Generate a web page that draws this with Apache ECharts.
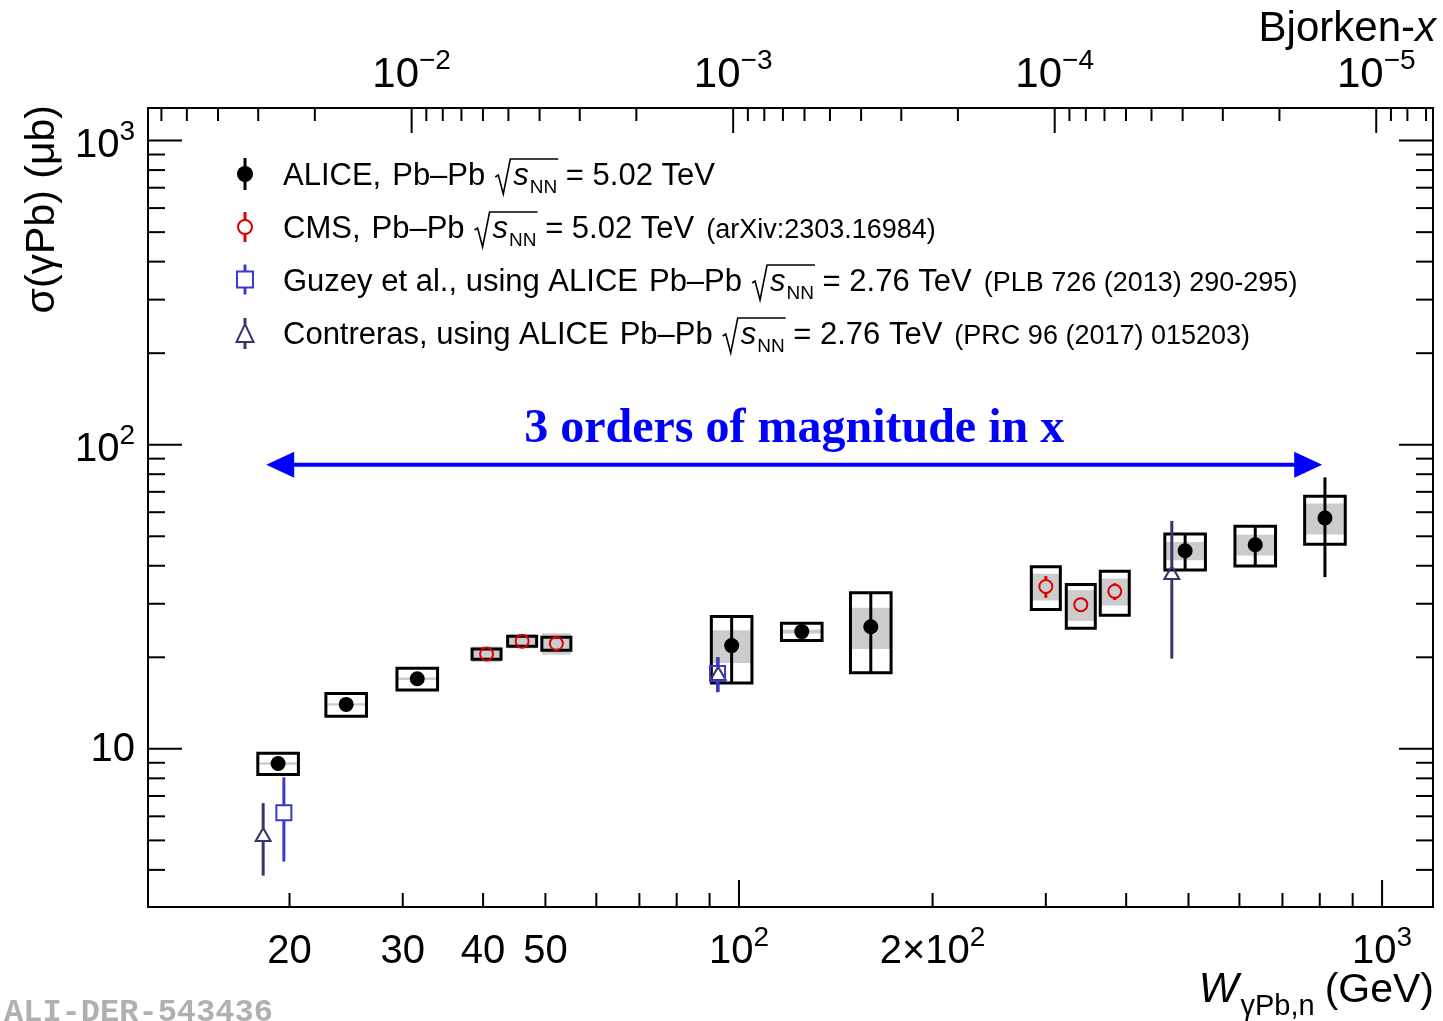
<!DOCTYPE html>
<html>
<head>
<meta charset="utf-8">
<script src="https://cdn.jsdelivr.net/npm/echarts@6/dist/echarts.min.js"></script>
<style>
  html, body { margin: 0; padding: 0; background: #fff; }
  #main { width: 1443px; height: 1021px; }
</style>
</head>
<body>
<div id="main"></div>
<script>
// ---------------- data ----------------
// ALICE Pb-Pb 5.02 TeV: W (GeV), sigma (ub), stat, uncorrelated syst (box), correlated syst (grey)
const aliceW     = [19.2, 24.5, 31.6, 97.4, 125.2, 160.3, 494, 635, 815];
const aliceSigma = [8.95, 14.0, 17.0, 21.85, 24.3, 25.2, 44.8, 46.9, 57.4];
const aliceStat  = [0.3, 0.4, 0.5, 5.4, 0.5, 7.4, 6.1, 7.0, 20.7];
const aliceSyst  = [0.72, 1.2, 1.4, 5.4, 1.6, 7.4, 6.1, 7.0, 10.3];
const aliceCorr  = [0.08, 0.12, 0.15, 2.7, 0.35, 3.9, 3.1, 3.7, 6.7];

// CMS Pb-Pb 5.02 TeV
const cmsW     = [40.5, 46.0, 52.0, 300, 340, 384];
const cmsSigma = [20.5, 22.6, 22.2, 34.2, 29.8, 32.95];
const cmsStat  = [0.3, 0.3, 0.3, 2.8, 1.6, 2.1];
const cmsSyst  = [0.8, 0.85, 1.1, 5.5, 4.9, 5.45];
const cmsCorr  = [1.2, 1.2, 1.8, 3.45, 3.45, 3.35];

// Guzey et al. (from ALICE Pb-Pb 2.76 TeV)
const guzeyW     = [19.6, 92.6];
const guzeySigma = [6.16, 17.7];
const guzeyErr   = [1.9, 2.35];

// Contreras (from ALICE Pb-Pb 2.76 TeV)
const contrerasW     = [18.2, 92.8, 471];
const contrerasSigma = [5.23, 17.7, 38.0];
const contrerasErr   = [1.4, 2.3, 18.2];

// axis ranges
const wMin = 12.05, wMax = 1200;
const sigmaMin = 3.02, sigmaMax = 1280;
const jpsiMassSq = 9.59;                 // M(J/psi)^2 in GeV^2, Bjorken x = M^2 / W^2
const bjxMin = jpsiMassSq / (wMax * wMax);
const bjxMax = jpsiMassSq / (wMin * wMin);

// ticks
const wMajorTicks = [100, 1000];
const wMinorTicks = [20, 30, 40, 50, 60, 70, 80, 90, 200, 300, 400, 500, 600, 700, 800, 900];
const wTickLabels = [[20, '20'], [30, '30'], [40, '40'], [50, '50'], [100, '10', '2'], [200, '2×10', '2'], [1000, '10', '3']];

const bjxMajorTicks = [1e-2, 1e-3, 1e-4, 1e-5];
const bjxMinorTicks = [0.02, 0.03, 0.04, 0.05, 0.06,
  0.002, 0.003, 0.004, 0.005, 0.006, 0.007, 0.008, 0.009,
  0.0002, 0.0003, 0.0004, 0.0005, 0.0006, 0.0007, 0.0008, 0.0009,
  0.00002, 0.00003, 0.00004, 0.00005, 0.00006, 0.00007, 0.00008, 0.00009,
  0.000007, 0.000008, 0.000009];
const bjxTickLabels = [[1e-2, '10', '−2'], [1e-3, '10', '−3'], [1e-4, '10', '−4'], [1e-5, '10', '−5']];

const sigmaMajorTicks = [10, 100, 1000];
const sigmaMinorTicks = [4, 5, 6, 7, 8, 9, 20, 30, 40, 50, 60, 70, 80, 90, 200, 300, 400, 500, 600, 700, 800, 900];
const sigmaTickLabels = [[10, '10'], [100, '10', '2'], [1000, '10', '3']];

// legend entries
const legendNames    = ['ALICE,', 'CMS,', 'Guzey et al., using ALICE', 'Contreras, using ALICE'];
const legendEnergies = ['5.02 TeV', '5.02 TeV', '2.76 TeV', '2.76 TeV'];
const legendRefs     = ['', '(arXiv:2303.16984)', '(PLB 726 (2013) 290-295)', '(PRC 96 (2017) 015203)'];

// annotation arrow spanning the covered range in x
const arrowW = [18.4, 807];
const arrowSigma = 86;
const arrowText = '3 orders of magnitude in x';

// ---------------- styling ----------------
const SANS = '"Liberation Sans", Arial, Helvetica, sans-serif';
const SERIF = '"Liberation Serif", "Times New Roman", serif';
const MONO = '"Liberation Mono", "DejaVu Sans Mono", monospace';
const RED = '#dd0000', BLUE = '#3a3ad0', NAVY = '#36366f', ARROW = '#0000ff', GREY = '#cccccc';
const ALICE_HALF = 20.3, CMS_HALF = 14.5;
const MID = 0.3465;  // canvas 'middle' baseline sits this many em above the alphabetic one

// ---------------- text layout helpers ----------------
const mctx = document.createElement('canvas').getContext('2d');
function fontOf(p) {
  return (p.italic ? 'italic ' : '') + (p.bold ? 'bold ' : '') + p.size + 'px ' + (p.family || SANS);
}
function widthOf(p) { mctx.font = fontOf(p); return mctx.measureText(p.t).width; }

// lays out text pieces on a common baseline; pieces may be {space, key} gaps
function textRun(pieces, x, baseline, align, fill) {
  let total = 0;
  const ws = pieces.map(p => { const w = p.space !== undefined ? p.space : widthOf(p); total += w; return w; });
  let cx = align === 'right' ? x - total : align === 'center' ? x - total / 2 : x;
  const els = [], marks = {};
  pieces.forEach((p, i) => {
    if (p.key) marks[p.key] = cx;
    if (p.space === undefined) {
      els.push({
        type: 'text', x: cx, y: baseline + (p.dy || 0) - MID * p.size, silent: true,
        style: {
          text: p.t, fontSize: p.size, fontFamily: p.family || SANS,
          fontStyle: p.italic ? 'italic' : 'normal', fontWeight: p.bold ? 'bold' : 'normal',
          fill: p.fill || fill || '#000',
          align: 'left', textAlign: 'left', verticalAlign: 'middle', textVerticalAlign: 'middle'
        }
      });
    }
    cx += ws[i];
    if (p.keyEnd) marks[p.keyEnd] = cx;
  });
  return { els, total, marks };
}

function powerLabel(base, exp, size, expSize, expRise) {
  const parts = [{ t: base, size: size }];
  if (exp) parts.push({ t: exp, size: expSize, dy: -expRise });
  return parts;
}

// ---------------- render functions ----------------
function boxRenderer(half, color) {
  return function (params, api) {
    const w = api.value(0), s = api.value(1), stat = api.value(2), syst = api.value(3), corr = api.value(4);
    const c = api.coord([w, s]);
    const ys1 = api.coord([w, s + syst])[1], ys2 = api.coord([w, s - syst])[1];
    const yc1 = api.coord([w, s + corr])[1], yc2 = api.coord([w, s - corr])[1];
    const yt1 = api.coord([w, s + stat])[1], yt2 = api.coord([w, s - stat])[1];
    const kids = [
      { type: 'rect', shape: { x: c[0] - half, y: yc1, width: 2 * half, height: yc2 - yc1 }, style: { fill: GREY } },
      { type: 'rect', shape: { x: c[0] - half, y: ys1, width: 2 * half, height: ys2 - ys1 }, style: { fill: 'none', stroke: '#000', lineWidth: 3 } }
    ];
    if (color) kids.push({ type: 'line', shape: { x1: c[0], y1: yt1, x2: c[0], y2: yt2 }, style: { stroke: color, lineWidth: 3 } });
    return { type: 'group', children: kids };
  };
}

// vertical error bar that leaves a gap for an open marker
function openErrRenderer(color, gapUp, gapDown) {
  return function (params, api) {
    const w = api.value(0), s = api.value(1), e = api.value(2);
    const c = api.coord([w, s]);
    const y1 = api.coord([w, s + e])[1], y2 = api.coord([w, s - e])[1];
    const kids = [];
    if (y1 < c[1] - gapUp) kids.push({ type: 'line', shape: { x1: c[0], y1: y1, x2: c[0], y2: c[1] - gapUp }, style: { stroke: color, lineWidth: 3 } });
    if (y2 > c[1] + gapDown) kids.push({ type: 'line', shape: { x1: c[0], y1: c[1] + gapDown, x2: c[0], y2: y2 }, style: { stroke: color, lineWidth: 3 } });
    return { type: 'group', children: kids };
  };
}

function zip(...arrs) { return arrs[0].map((_, i) => arrs.map(a => a[i])); }

const wTickData = wMajorTicks.map(v => [v, sigmaMin, 1]).concat(wMinorTicks.map(v => [v, sigmaMin, 0]));
const bjxTickData = bjxMajorTicks.map(v => [v, sigmaMax, 1]).concat(bjxMinorTicks.map(v => [v, sigmaMax, 0]));
const sigmaTickData = sigmaMajorTicks.map(v => [wMin, v, 1]).concat(sigmaMinorTicks.map(v => [wMin, v, 0]));

const tickStyle = { stroke: '#000', lineWidth: 2 };

const series = [
  // bottom axis ticks (W)
  {
    type: 'custom', name: 'W ticks', xAxisIndex: 0, yAxisIndex: 0, silent: true, clip: false, z: 6,
    data: wTickData,
    renderItem: (params, api) => {
      const c = api.coord([api.value(0), sigmaMin]);
      const len = api.value(2) ? 27 : 14;
      return { type: 'line', shape: { x1: c[0], y1: c[1], x2: c[0], y2: c[1] - len }, style: tickStyle };
    }
  },
  // bottom axis labels
  {
    type: 'custom', name: 'W labels', xAxisIndex: 0, yAxisIndex: 0, silent: true, clip: false, z: 6,
    data: wTickLabels.map(l => [l[0], sigmaMin]),
    renderItem: (params, api) => {
      const l = wTickLabels[params.dataIndex];
      const c = api.coord([l[0], sigmaMin]);
      return { type: 'group', children: textRun(powerLabel(l[1], l[2], 40, 28, 18), c[0], c[1] + 59, 'center').els };
    }
  },
  // top axis ticks (Bjorken x)
  {
    type: 'custom', name: 'x ticks', xAxisIndex: 1, yAxisIndex: 0, silent: true, clip: false, z: 6,
    data: bjxTickData,
    renderItem: (params, api) => {
      const c = api.coord([api.value(0), sigmaMax]);
      const len = api.value(2) ? 25 : 13;
      return { type: 'line', shape: { x1: c[0], y1: c[1], x2: c[0], y2: c[1] + len }, style: tickStyle };
    }
  },
  {
    type: 'custom', name: 'x labels', xAxisIndex: 1, yAxisIndex: 0, silent: true, clip: false, z: 6,
    data: bjxTickLabels.map(l => [l[0], sigmaMax]),
    renderItem: (params, api) => {
      const l = bjxTickLabels[params.dataIndex];
      const c = api.coord([l[0], sigmaMax]);
      return { type: 'group', children: textRun(powerLabel(l[1], l[2], 42, 28, 19), c[0], c[1] - 18, 'center').els };
    }
  },
  // left and right axis ticks (sigma)
  {
    type: 'custom', name: 'sigma ticks', xAxisIndex: 0, yAxisIndex: 0, silent: true, clip: false, z: 6,
    data: sigmaTickData,
    renderItem: (params, api) => {
      const v = api.value(1);
      const a = api.coord([wMin, v]), b = api.coord([wMax, v]);
      const len = api.value(2) ? 34 : 17;
      return {
        type: 'group', children: [
          { type: 'line', shape: { x1: a[0], y1: a[1], x2: a[0] + len, y2: a[1] }, style: tickStyle },
          { type: 'line', shape: { x1: b[0], y1: b[1], x2: b[0] - len, y2: b[1] }, style: tickStyle }
        ]
      };
    }
  },
  {
    type: 'custom', name: 'sigma labels', xAxisIndex: 0, yAxisIndex: 0, silent: true, clip: false, z: 6,
    data: sigmaTickLabels.map(l => [wMin, l[0]]),
    renderItem: (params, api) => {
      const l = sigmaTickLabels[params.dataIndex];
      const c = api.coord([wMin, l[0]]);
      const base = l[2] ? c[1] + 19 : c[1] + 14.5;
      return { type: 'group', children: textRun(powerLabel(l[1], l[2], 40, 28, 18), c[0] - 13, base, 'right').els };
    }
  },
  // systematic boxes
  {
    type: 'custom', name: 'ALICE syst', xAxisIndex: 0, yAxisIndex: 0, silent: true, z: 2,
    data: zip(aliceW, aliceSigma, aliceStat, aliceSyst, aliceCorr),
    renderItem: boxRenderer(ALICE_HALF, '#000')
  },
  {
    type: 'custom', name: 'CMS syst', xAxisIndex: 0, yAxisIndex: 0, silent: true, z: 2,
    data: zip(cmsW, cmsSigma, cmsStat, cmsSyst, cmsCorr),
    renderItem: boxRenderer(CMS_HALF, null)
  },
  // error bars of open markers
  {
    type: 'custom', name: 'Contreras err', xAxisIndex: 0, yAxisIndex: 0, silent: true, z: 3,
    data: zip(contrerasW, contrerasSigma, contrerasErr),
    renderItem: openErrRenderer(NAVY, 6.5, 6.5)
  },
  {
    type: 'custom', name: 'Guzey err', xAxisIndex: 0, yAxisIndex: 0, silent: true, z: 3,
    data: zip(guzeyW, guzeySigma, guzeyErr),
    renderItem: openErrRenderer(BLUE, 7.5, 7.5)
  },
  {
    type: 'custom', name: 'CMS stat', xAxisIndex: 0, yAxisIndex: 0, silent: true, z: 3,
    data: zip(cmsW, cmsSigma, cmsStat),
    renderItem: openErrRenderer(RED, 6.5, 6.5)
  },
  // markers
  {
    type: 'scatter', name: 'ALICE', xAxisIndex: 0, yAxisIndex: 0, silent: true, z: 4,
    data: zip(aliceW, aliceSigma), symbol: 'circle', symbolSize: 15,
    itemStyle: { color: '#000', opacity: 1 }
  },
  {
    type: 'scatter', name: 'CMS', xAxisIndex: 0, yAxisIndex: 0, silent: true, z: 4,
    data: zip(cmsW, cmsSigma), symbol: 'circle', symbolSize: 13,
    itemStyle: { color: 'rgba(0,0,0,0)', borderColor: RED, borderWidth: 2, opacity: 1 }
  },
  {
    type: 'scatter', name: 'Contreras', xAxisIndex: 0, yAxisIndex: 0, silent: true, z: 4,
    data: zip(contrerasW, contrerasSigma), symbol: 'triangle', symbolSize: [15, 13],
    itemStyle: { color: 'rgba(0,0,0,0)', borderColor: NAVY, borderWidth: 2, opacity: 1 }
  },
  {
    type: 'scatter', name: 'Guzey', xAxisIndex: 0, yAxisIndex: 0, silent: true, z: 4,
    data: zip(guzeyW, guzeySigma), symbol: 'rect', symbolSize: 15,
    itemStyle: { color: 'rgba(0,0,0,0)', borderColor: BLUE, borderWidth: 2, opacity: 1 }
  },
  // double-headed arrow with its caption
  {
    type: 'custom', name: 'x range', xAxisIndex: 0, yAxisIndex: 0, silent: true, clip: false, z: 5,
    data: [[arrowW[0], arrowW[1], arrowSigma]],
    encode: { x: [0, 1], y: 2 },
    renderItem: (params, api) => {
      const a = api.coord([api.value(0), api.value(2)]);
      const b = api.coord([api.value(1), api.value(2)]);
      const y = a[1], head = 28, hh = 13;
      const cap = textRun([{ t: arrowText, size: 48, bold: true, family: SERIF }], (a[0] + b[0]) / 2, y - 18, 'center', ARROW);
      return {
        type: 'group', children: [
          { type: 'line', shape: { x1: a[0] + head - 2, y1: y, x2: b[0] - head + 2, y2: y }, style: { stroke: ARROW, lineWidth: 4 } },
          { type: 'polygon', shape: { points: [[a[0], y], [a[0] + head, y - hh], [a[0] + head, y + hh]] }, style: { fill: ARROW } },
          { type: 'polygon', shape: { points: [[b[0], y], [b[0] - head, y - hh], [b[0] - head, y + hh]] }, style: { fill: ARROW } }
        ].concat(cap.els)
      };
    }
  }
];

// ---------------- legend, titles ----------------
const graphics = [];
const legendX = 245, legendTextX = 283;
const legendBase = [187, 240, 293, 346];
const legendMarkY = [174, 227, 279.5, 333];

legendNames.forEach((name, i) => {
  const b = legendBase[i];
  const pieces = [
    { t: name, size: 31 },
    { space: 11 },
    { t: 'Pb–Pb', size: 31 },
    { space: 10 },
    { space: 18, key: 'r0' },      // radical sign
    { t: 's', size: 31, italic: true },
    { space: 1 },
    { t: 'NN', size: 19, dy: 7, keyEnd: 'r2' },
    { t: ' = ' + legendEnergies[i], size: 31 }
  ];
  if (legendRefs[i]) pieces.push({ space: 12 }, { t: legendRefs[i], size: 27 });
  const run = textRun(pieces, legendTextX, b, 'left');
  run.els.forEach(e => graphics.push(e));
  const x0 = run.marks.r0, x2 = run.marks.r2;
  graphics.push({
    type: 'polyline', silent: true,
    shape: { points: [[x0, b - 10], [x0 + 3, b - 12], [x0 + 8, b + 7], [x0 + 15, b - 28], [x2 + 1, b - 28]] },
    style: { stroke: '#000', lineWidth: 1.6, fill: 'none' }
  });
});

// legend markers
(function () {
  let y = legendMarkY[0];
  graphics.push({ type: 'line', silent: true, shape: { x1: legendX, y1: y - 16, x2: legendX, y2: y + 16 }, style: { stroke: '#000', lineWidth: 3 } });
  graphics.push({ type: 'circle', silent: true, shape: { cx: legendX, cy: y, r: 8 }, style: { fill: '#000' } });
  y = legendMarkY[1];
  graphics.push({ type: 'line', silent: true, shape: { x1: legendX, y1: y - 15, x2: legendX, y2: y - 7 }, style: { stroke: RED, lineWidth: 3 } });
  graphics.push({ type: 'line', silent: true, shape: { x1: legendX, y1: y + 7, x2: legendX, y2: y + 15 }, style: { stroke: RED, lineWidth: 3 } });
  graphics.push({ type: 'circle', silent: true, shape: { cx: legendX, cy: y, r: 7 }, style: { fill: 'none', stroke: RED, lineWidth: 2 } });
  y = legendMarkY[2];
  graphics.push({ type: 'line', silent: true, shape: { x1: legendX, y1: y - 15, x2: legendX, y2: y - 8 }, style: { stroke: BLUE, lineWidth: 3 } });
  graphics.push({ type: 'line', silent: true, shape: { x1: legendX, y1: y + 8, x2: legendX, y2: y + 15 }, style: { stroke: BLUE, lineWidth: 3 } });
  graphics.push({ type: 'rect', silent: true, shape: { x: legendX - 8, y: y - 8, width: 16, height: 16 }, style: { fill: 'none', stroke: BLUE, lineWidth: 2 } });
  y = legendMarkY[3];
  graphics.push({ type: 'line', silent: true, shape: { x1: legendX, y1: y - 15, x2: legendX, y2: y - 9 }, style: { stroke: NAVY, lineWidth: 3 } });
  graphics.push({ type: 'line', silent: true, shape: { x1: legendX, y1: y + 9, x2: legendX, y2: y + 16 }, style: { stroke: NAVY, lineWidth: 3 } });
  graphics.push({ type: 'polygon', silent: true, shape: { points: [[legendX, y - 9], [legendX + 8.5, y + 9], [legendX - 8.5, y + 9]] }, style: { fill: 'none', stroke: NAVY, lineWidth: 2 } });
})();

// y-axis title (rotated)
graphics.push({
  type: 'group', x: 57, y: 105, rotation: Math.PI / 2, silent: true,
  children: textRun([{ t: 'σ(γPb) (μb)', size: 41 }], 0, 0, 'right').els
});
// x-axis title
textRun([
  { t: 'W', size: 42, italic: true },
  { space: 2 },
  { t: 'γPb,n', size: 29, dy: 12 },
  { space: 10 },
  { t: '(GeV)', size: 41 }
], 1434, 1005, 'right').els.forEach(e => graphics.push(e));
// top axis title
textRun([{ t: 'Bjorken-', size: 42 }, { t: 'x', size: 42, italic: true }], 1436, 44, 'right').els.forEach(e => graphics.push(e));
// figure id
textRun([{ t: 'ALI-DER-543436', size: 32, bold: true, family: MONO, fill: '#b0b0b0' }], 4, 1024, 'left').els.forEach(e => graphics.push(e));

// ---------------- chart ----------------
const chart = echarts.init(document.getElementById('main'), null, { renderer: 'canvas' });
chart.setOption({
  animation: false,
  backgroundColor: '#ffffff',
  grid: { left: 148, top: 108, width: 1285, height: 799, show: true, borderColor: '#000', borderWidth: 2, backgroundColor: 'rgba(0,0,0,0)' },
  xAxis: [
    { type: 'log', logBase: 10, min: wMin, max: wMax, show: false },
    { type: 'log', logBase: 10, min: bjxMin, max: bjxMax, inverse: true, position: 'top', show: false }
  ],
  yAxis: [
    { type: 'log', logBase: 10, min: sigmaMin, max: sigmaMax, show: false }
  ],
  tooltip: { show: false },
  series: series,
  graphic: { elements: graphics }
});
</script>
</body>
</html>
